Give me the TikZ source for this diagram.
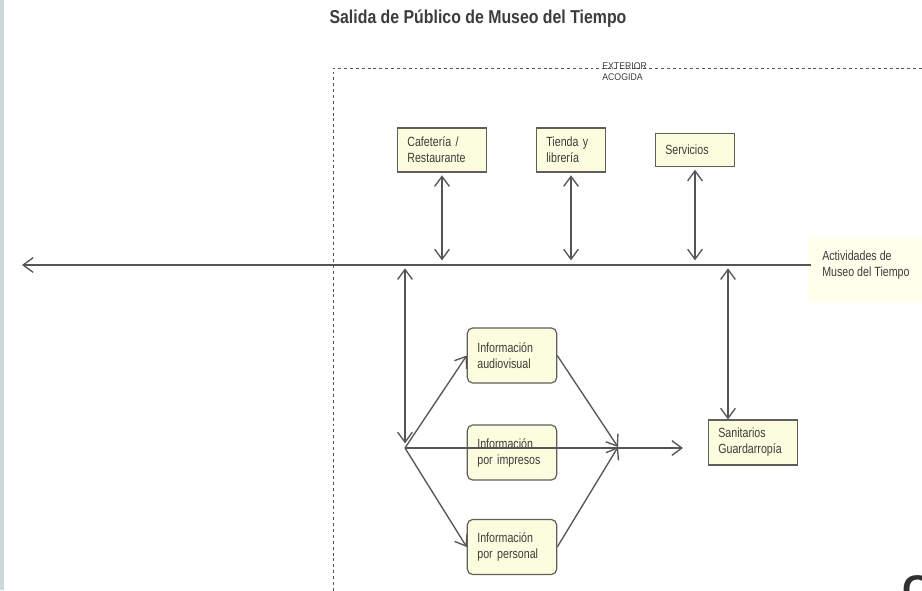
\documentclass[tikz,border=0pt]{standalone}
\usepackage{fontspec}
\setmainfont{Liberation Sans}
\newfontfamily\nar[FakeStretch=0.8]{Liberation Sans}
\newfontfamily\smallfont[FakeStretch=0.9]{Liberation Sans}
\newfontfamily\titfont[FakeStretch=0.85]{Liberation Sans}
\usetikzlibrary{arrows.meta}
\definecolor{boxfill}{RGB}{252,252,222}
\definecolor{boxline}{RGB}{95,95,90}
\definecolor{lin}{RGB}{85,85,85}
\definecolor{txt}{RGB}{60,60,60}
\definecolor{lblfill}{RGB}{255,255,236}
\definecolor{strip}{RGB}{205,216,220}
\tikzset{
  bx/.style={draw=boxline, fill=boxfill, line width=0.9pt, text=txt,
    font=\nar\fontsize{10}{12}\selectfont, align=left, inner xsep=7.5pt,
    inner ysep=2pt, text width=#1},
  rbx/.style={bx=#1, rounded corners=4pt},
  conn/.style={draw=lin, line width=1pt, arrows={-Straight Barb[length=7.5pt,width=11pt]}},
  dconn/.style={draw=lin, line width=1pt, arrows={Straight Barb[length=7.5pt,width=11pt]-Straight Barb[length=7.5pt,width=11pt]}},
}
\begin{document}
\begin{tikzpicture}[x=0.75pt,y=-0.75pt]
\clip (0,0) rectangle (922,590);
\fill[white] (0,0) rectangle (922,590);
\fill[strip] (0,0) rectangle (4,590);

% title
\node[text=txt, font=\titfont\bfseries\fontsize{14}{16}\selectfont] (title) at (478,19) {Salida de Público de Museo del Tiempo};

% dashed zone
\draw[draw=lin, line width=0.6pt, dash pattern=on 2.2pt off 2.2pt] (922,68) -- (333,68) -- (333,592);
\node[text=txt, font=\smallfont\fontsize{7.3}{8.2}\selectfont, align=left, inner sep=0pt, anchor=north west] (ext) at (602,62) {EXTERIOR\\ACOGIDA};

% label right
\fill[lblfill] (808,238) rectangle (922,302);
\node[text=txt, font=\nar\fontsize{10}{12}\selectfont, align=left, inner sep=0pt, anchor=west] (act) at (822,265) {Actividades de\\Museo del Tiempo};

% main line
\coordinate (mainL) at (22,265);
\coordinate (mainR) at (811,265);
\draw[conn] (mainR) -- (mainL);

% top boxes
\node[bx=52pt, minimum height=33pt] (caf) at (442,150) {Cafetería /\\Restaurante};
\node[bx=37pt, minimum height=33pt] (tie) at (571,150) {Tienda y\\librería};
\node[bx=44.5pt, minimum height=24.75pt] (ser) at (695,150) {Servicios};

\draw[dconn, shorten <=2pt, shorten >=3.5pt] (caf.south) -- (caf.south |- mainL);
\draw[dconn, shorten <=2pt, shorten >=3.5pt] (tie.south) -- (tie.south |- mainL);
\draw[dconn, shorten <=2pt, shorten >=3.5pt] (ser.south) -- (ser.south |- mainL);

% info boxes
\node[rbx=52pt, minimum height=41.25pt] (av) at (512,355.5) {Información\\audiovisual};
\node[rbx=52pt, minimum height=41.25pt] (ip) at (512,452.5) {Información\\por impresos};
\node[rbx=52pt, minimum height=41.25pt] (pp) at (512,547) {Información\\por personal};

% sanitarios
\node[bx=52pt, minimum height=33.75pt] (san) at (753,442.5) {Sanitarios\\Guardarropía};

% left vertical and hub
\coordinate (lv) at (405,265);
\coordinate (hub) at (405,448);
\coordinate (conv) at (618,447);
\coordinate (hend) at (683,448);
\coordinate (rv) at (728,265);

\draw[dconn, shorten <=2.5pt, shorten >=3.5pt] (lv) -- (hub);
\draw[conn] (hub) -- (av.west);
\draw[conn] (hub) -- (pp.west);
\draw[conn] (hub) -- (hend);
\draw[conn] (av.east) -- (conv);
\draw[conn] (pp.east) -- (conv);
\draw[dconn, shorten <=2.5pt] (rv) -- (rv |- san.north);

% partial letter bottom right (cut by the edge, as in the reference)
\node[text=txt!80!black, font=\bfseries\fontsize{30}{30}\selectfont, inner sep=0pt, anchor=north west] (cc) at (902,575) {C};
\end{tikzpicture}
\end{document}
